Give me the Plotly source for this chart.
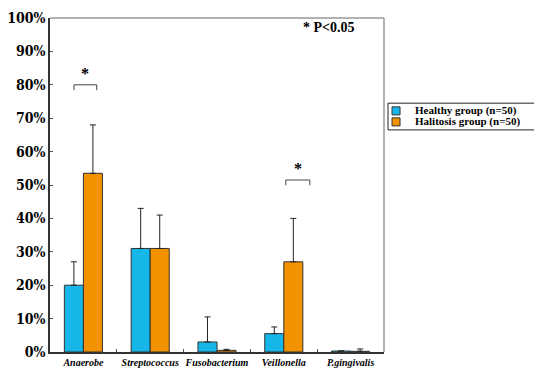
import plotly.graph_objects as go

categories = ["Anaerobe", "Streptococcus", "Fusobacterium", "Veillonella", "P.gingivalis"]
healthy = [20.0, 31.0, 3.0, 5.5, 0.3]
healthy_err = [7.0, 12.0, 7.5, 2.0, 0.0]
halitosis = [53.5, 31.0, 0.5, 27.0, 0.2]
halitosis_err = [14.5, 10.0, 0.3, 13.0, 0.7]
series_names = ["Healthy group (n=50)", "Halitosis group (n=50)"]
series_colors = ["#17B6E8", "#F39200"]
sig_index = [0, 3]
sig_level = [80.0, 51.5]
y_ticks = [0, 10, 20, 30, 40, 50, 60, 70, 80, 90, 100]
y_tick_text = [f"{v}%" for v in y_ticks]

SERIF = "DejaVu Serif Condensed"
SERIF2 = "Liberation Serif"

fig = go.Figure()
for name, vals, errs, col in zip(series_names, [healthy, halitosis],
                                 [healthy_err, halitosis_err], series_colors):
    fig.add_trace(go.Bar(
        x=categories, y=vals, name=name, showlegend=False,
        marker=dict(color=col, line=dict(color="#333333", width=1)),
        error_y=dict(type="data", symmetric=False, array=errs,
                     arrayminus=[0]*len(vals), color="#222222", thickness=1, width=3),
    ))

offsets = {0: (-0.14, 0.2), 3: (0.03, 0.39)}
for idx, lvl in zip(sig_index, sig_level):
    x0, x1 = idx + offsets[idx][0], idx + offsets[idx][1]
    fig.add_shape(type="path", xref="x", yref="y",
                  path=f"M {x0},{lvl-1.6} L {x0},{lvl} L {x1},{lvl} L {x1},{lvl-1.6}",
                  line=dict(color="#444444", width=1))
    fig.add_annotation(x=(x0 + x1) / 2, y=lvl + 0.3, xref="x", yref="y", text="<b>*</b>",
                       showarrow=False, yanchor="bottom",
                       font=dict(family=SERIF2, size=16, color="black"))

fig.add_annotation(x=0.92, y=0.972, xref="paper", yref="paper", text="<b>* P&lt;0.05</b>",
                   showarrow=False, xanchor="right", yanchor="middle",
                   font=dict(family=SERIF2, size=14, color="black"))

# top and right frame lines
fig.add_shape(type="line", xref="paper", yref="paper", x0=0, x1=1, y0=1, y1=1,
              line=dict(color="#999999", width=1.5))
fig.add_shape(type="line", xref="paper", yref="paper", x0=1, x1=1, y0=0, y1=1,
              line=dict(color="#999999", width=1.5))

# compact legend box
fig.add_shape(type="rect", xref="paper", yref="paper", x0=1.012, x1=1.47, y0=0.665, y1=0.745,
              line=dict(color="#222222", width=1), fillcolor="white")
for i, (name, col) in enumerate(zip(series_names, series_colors)):
    yc = 0.722 - i * 0.033
    fig.add_shape(type="rect", xref="paper", yref="paper", x0=1.024, x1=1.048,
                  y0=yc - 0.012, y1=yc + 0.012,
                  line=dict(color="#333333", width=1), fillcolor=col)
    fig.add_annotation(x=1.088, y=yc, xref="paper", yref="paper", text=f"<b>{name}</b>",
                       showarrow=False, xanchor="left", yanchor="middle",
                       font=dict(family=SERIF2, size=11, color="black"))

fig.update_layout(
    width=542, height=368,
    margin=dict(l=42, r=166, t=10, b=24, autoexpand=False),
    paper_bgcolor="white", plot_bgcolor="white",
    barmode="group", bargap=0.43, bargroupgap=0,
    font=dict(family=SERIF, color="black"),
    showlegend=False,
    xaxis=dict(type="category", showline=True, linecolor="#333333", linewidth=1.5,
               ticks="inside", ticklen=3, tickson="boundaries", tickcolor="#555555",
               tickangle=0, automargin=False,
               tickfont=dict(family=SERIF2, size=10, color="black", weight="bold", style="italic"),
               showgrid=False, zeroline=False),
    yaxis=dict(range=[0, 100], tickvals=y_ticks, ticktext=y_tick_text,
               showline=True, linecolor="#333333", linewidth=1.5,
               ticks="inside", ticklen=3, tickcolor="#555555", automargin=False,
               tickfont=dict(family=SERIF, size=14, color="black", weight="bold"),
               showgrid=False, zeroline=False),
)

fig.write_html("out.html")
